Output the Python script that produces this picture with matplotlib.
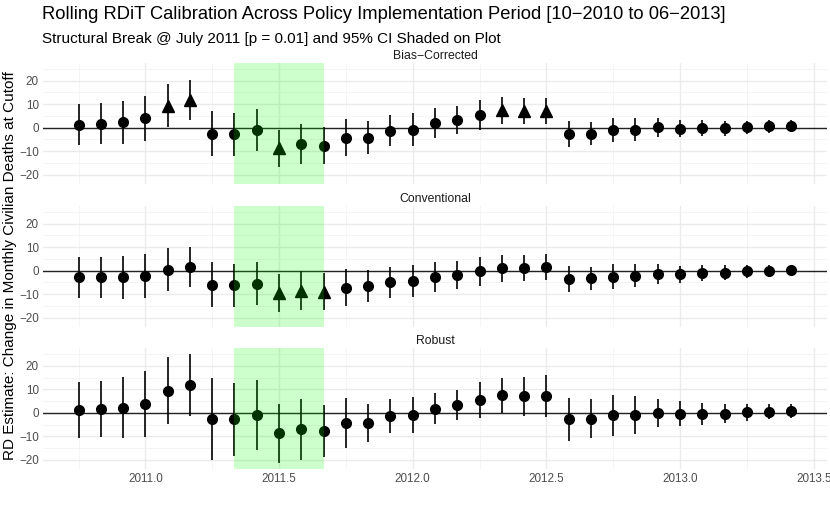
import matplotlib
matplotlib.use("Agg")
import matplotlib.pyplot as plt
import numpy as np
import pandas as pd

plt.rcParams['font.family'] = ['Liberation Sans', 'DejaVu Sans']

# ------------------------------------------------------------
# data (monthly rolling RDiT estimates)
# ------------------------------------------------------------
months = pd.period_range('2010-10', '2013-06', freq='M')

# bias-corrected / robust share the point estimate
bc_est = [1.3, 1.7, 2.2, 3.9, 9.4, 11.8, -2.5, -2.8, -1.0, -8.7, -6.9, -7.6,
          -4.2, -4.3, -1.3, -0.8, 1.8, 3.3, 5.4, 7.4, 7.0, 7.2, -2.7, -2.5,
          -1.0, -0.9, 0.1, -0.4, -0.3, -0.3, 0.2, 0.5, 0.85]
bc_hw = [8.7, 8.7, 9.1, 9.4, 9.3, 8.4, 9.6, 9.2, 8.9, 7.9, 8.5, 7.8,
         7.7, 7.0, 6.7, 6.9, 6.4, 6.1, 6.2, 5.7, 5.6, 5.5, 5.4, 5.0,
         5.1, 4.8, 4.0, 3.7, 3.4, 3.1, 2.8, 2.6, 2.4]

conv_est = [-2.9, -2.9, -2.8, -2.3, 0.4, 1.6, -5.9, -6.3, -5.5, -9.5, -8.5, -8.9,
            -7.2, -6.7, -5.0, -4.6, -2.8, -1.8, -0.35, 1.0, 1.2, 1.4, -3.5, -3.3,
            -2.5, -2.2, -1.4, -1.5, -1.0, -0.8, -0.35, 0.0, 0.3]
conv_hw = [8.7, 8.7, 9.1, 9.4, 9.2, 8.4, 9.6, 9.2, 9.0, 8.1, 8.3, 7.9,
           8.0, 6.8, 6.7, 6.8, 6.4, 6.0, 6.2, 5.8, 5.6, 5.5, 5.4, 5.0,
           5.2, 4.9, 4.1, 3.6, 3.3, 3.0, 2.6, 2.6, 2.3]

rb_hw = [11.8, 11.9, 13.0, 14.1, 14.3, 13.2, 17.5, 15.5, 15.0, 12.5, 13.0, 11.1,
         10.6, 8.1, 7.4, 7.6, 6.7, 6.4, 7.7, 7.5, 8.2, 9.1, 9.2, 8.4,
         8.7, 8.0, 6.0, 5.3, 4.7, 4.0, 3.5, 3.25, 2.85]

panel_names = ['Bias\u2212Corrected', 'Conventional', 'Robust']
break_start, break_end = 2011 + 4 / 12, 2011 + 8 / 12   # shaded 95% CI of the break

x = np.array([m.year + (m.month - 1) / 12 for m in months])
panels = [(panel_names[0], bc_est, bc_hw),
          (panel_names[1], conv_est, conv_hw),
          (panel_names[2], bc_est, rb_hw)]

W, H = 830, 505
fig = plt.figure(figsize=(W / 100, H / 100), dpi=100)

left, right = 43 / W, 827 / W
tops = [62.8, 205.8, 348.0]
ph = 120.8

for i, (name, est, hw) in enumerate(panels):
    est = np.array(est)
    hw = np.array(hw)
    lo, hi = est - hw, est + hw
    sig = (lo > 0) | (hi < 0)

    ax = fig.add_axes([left, 1 - (tops[i] + ph) / H, right - left, ph / H])
    ax.set_xlim(2010.617, 2013.55)
    ax.set_ylim(-23.8, 27.6)

    ax.set_xticks([2011.0, 2011.5, 2012.0, 2012.5, 2013.0, 2013.5])
    ax.set_xticks([2010.75, 2011.25, 2011.75, 2012.25, 2012.75, 2013.25], minor=True)
    ax.set_yticks([-20, -10, 0, 10, 20])
    ax.set_yticks([-15, -5, 5, 15, 25], minor=True)
    ax.grid(which='major', color='#EBEBEB', lw=1.0)
    ax.grid(which='minor', color='#F3F3F3', lw=0.6)
    ax.set_axisbelow(True)
    for s in ax.spines.values():
        s.set_visible(False)
    ax.tick_params(which='both', length=0, labelsize=8.4, labelcolor='#4D4D4D', pad=3)
    ax.set_yticklabels(['\u221220', '\u221210', '0', '10', '20'])
    if i < 2:
        ax.set_xticklabels([])
    else:
        ax.set_xticklabels(['2011.0', '2011.5', '2012.0', '2012.5', '2013.0', '2013.5'])

    ax.axhline(0, color='#222222', lw=1.0, zorder=1)
    ax.vlines(x, lo, hi, color='black', lw=1.2, zorder=2)
    ax.plot(x[~sig], est[~sig], 'o', color='black', ms=7, zorder=3)
    ax.plot(x[sig], est[sig], '^', color='black', ms=8, zorder=3)

    ax.axvspan(break_start, break_end, color='#00FF00', alpha=0.2, lw=0, zorder=4)
    ax.set_title(name, fontsize=8.8, color='#1A1A1A', pad=3)

fig.text(42 / W, 1 - 6 / H, 'Rolling RDiT Calibration Across Policy Implementation Period [10\u22122010 to 06\u22122013]',
         fontsize=13.2, va='top', ha='left')
fig.text(42 / W, 1 - 32 / H, 'Structural Break @ July 2011 [p = 0.01] and 95% CI Shaded on Plot',
         fontsize=11, va='top', ha='left')
fig.text(10 / W, 1 - 266 / H, 'RD Estimate: Change in Monthly Civilian Deaths at Cutoff',
         fontsize=11, rotation=90, va='center', ha='center')

fig.savefig('out.png', dpi=100)
